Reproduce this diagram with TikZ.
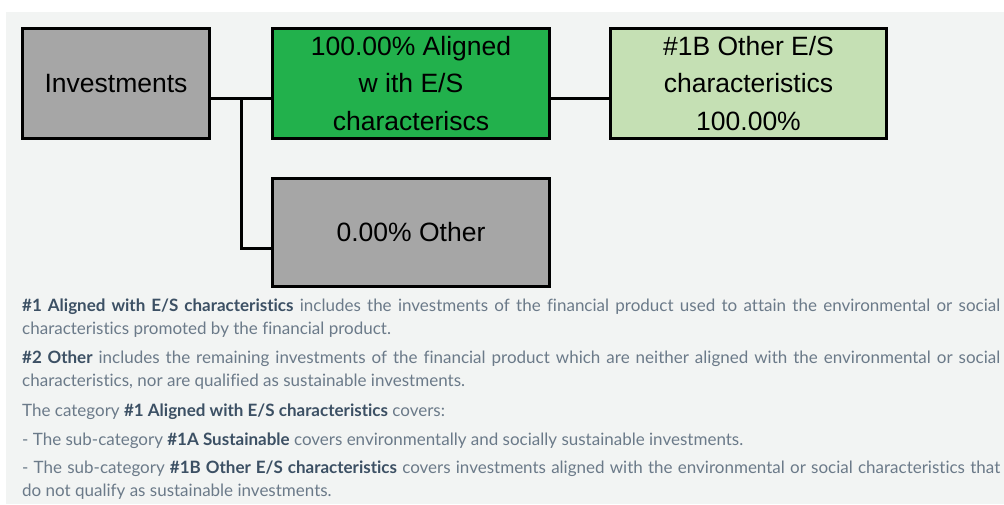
\documentclass[tikz,border=0pt]{standalone}
\usepackage{fontspec}
\setmainfont{Liberation Sans}
\newfontfamily\notefont[Ligatures=NoCommon]{Lato}
\usepackage{tikz}
\usetikzlibrary{positioning,calc}
\definecolor{mback}{HTML}{F2F4F3}
\definecolor{mgray}{HTML}{A6A6A6}
\definecolor{mgreen}{HTML}{22B14C}
\definecolor{mlight}{HTML}{C5E0B4}
\definecolor{mnote}{HTML}{6B7A89}
\definecolor{mnotebf}{HTML}{3C5064}
\newcommand{\fullline}[1]{\makebox[978pt][s]{#1}}

\begin{document}
\begin{tikzpicture}[x=1pt, y=-1pt,
        mbox/.style = {draw = black, line width = 3pt, minimum width = 187pt, minimum height = 110pt, align = center, inner sep = 0pt,
            font = \fontsize{26.5}{37.5}\selectfont},
        mline/.style = {line width = 3pt},
        mnotes/.style = {anchor = base west, inner sep = 0pt, text = mnote, font = \notefont\fontsize{17}{20}\selectfont}
        ]
        \useasboundingbox (0,0) rectangle (1004,504);
        \fill[white] (0,0) rectangle (1004,504);
        \fill[mback] (6,12) rectangle (1004,504);

        \node[mbox, fill = mgray] (Inv) at (116,83.5) {Investments};
        \node[mbox, fill = mgreen, minimum width = 277pt] (Aligned) at (411,83.5) {100.00\% Aligned\\w ith E/S\\characteriscs};
        \node[mbox, fill = mlight, minimum width = 276pt] (Other1B) at (748.5,83.5) {\#1B Other E/S\\characteristics\\100.00\%};
        \node[mbox, fill = mgray, minimum width = 277pt, minimum height = 108.5pt] (Other) at (411,232.5) {0.00\% Other};

        \coordinate (split) at (241.5,98.5);

        \draw[mline] ([yshift=-15pt]Inv.east) -- ([yshift=-15pt]Aligned.west);
        \draw[mline] ([yshift=-15pt]Aligned.east) -- ([yshift=-15pt]Other1B.west);
        \draw[mline] (split) |- ([yshift=-15.5pt]Other.west);

        \node[mnotes] (n1) at (22,311) {\fullline{\textcolor{mnotebf}{\bfseries \#1 Aligned with E/S characteristics} includes the investments of the financial product used to attain the environmental or social}};
        \node[mnotes] (n2) at (22,334) {characteristics promoted by the financial product.};
        \node[mnotes] (n3) at (22,363) {\fullline{\textcolor{mnotebf}{\bfseries \#2 Other} includes the remaining investments of the financial product which are neither aligned with the environmental or social}};
        \node[mnotes] (n4) at (22,386) {characteristics, nor are qualified as sustainable investments.};
        \node[mnotes] (n5) at (22,416) {The category \textcolor{mnotebf}{\bfseries \#1 Aligned with E/S characteristics} covers:};
        \node[mnotes] (n6) at (22,445) {- The sub-category \textcolor{mnotebf}{\bfseries \#1A Sustainable} covers environmentally and socially sustainable investments.};
        \node[mnotes] (n7) at (22,473) {\fullline{- The sub-category \textcolor{mnotebf}{\bfseries \#1B Other E/S characteristics} covers investments aligned with the environmental or social characteristics that}};
        \node[mnotes] (n8) at (22,496) {do not qualify as sustainable investments.};

    \end{tikzpicture}
\end{document}
